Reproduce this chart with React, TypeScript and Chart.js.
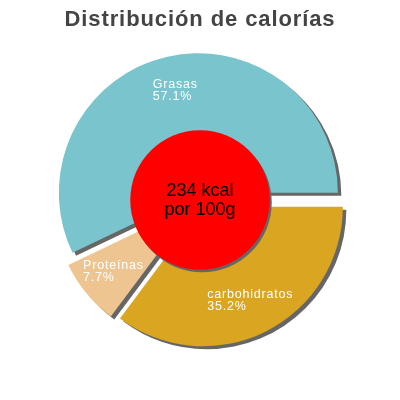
import { useEffect, useRef } from 'react';
import { Chart, registerables, type ArcElement, type Plugin } from 'chart.js';

Chart.register(...registerables);

// values, in drawing order (clockwise from 3 o'clock)
const title = 'Distribución de calorías';
const sliceNames = ['carbohidratos', 'Proteínas', 'Grasas'];
const sliceValues = [35.2, 7.7, 57.1];
const slicePercents = ['35.2%', '7.7%', '57.1%'];
const sliceColors = ['#DAA520', '#EEC591', '#7AC5CD'];
const centerLines = ['234 kcal', 'por 100g'];

const FONT = '"Liberation Sans", Arial, Helvetica, sans-serif';
const EXPLODE = 7.5;
const SHADOW_X = 3.5;
const SHADOW_Y = 3;
const SHADOW_COLOR = '#666666';

function arcGeom(arc: ArcElement) {
  const p = arc.getProps(['x', 'y', 'startAngle', 'endAngle', 'outerRadius'], true) as any;
  const mid = (p.startAngle + p.endAngle) / 2;
  return {
    ...p,
    mid,
    cx: p.x + Math.cos(mid) * EXPLODE,
    cy: p.y + Math.sin(mid) * EXPLODE,
  };
}

const explodedPie: Plugin<'pie'> = {
  id: 'explodedPie',
  beforeDraw(chart) {
    // title is drawn by the title plugin, a bit spaced like the original
    (chart.ctx as any).letterSpacing = '0.9px';
  },
  beforeDatasetsDraw(chart) {
    const ctx = chart.ctx;
    (ctx as any).letterSpacing = '0px';
    const arcs = chart.getDatasetMeta(0).data as unknown as ArcElement[];
    // shadows under every slice first
    arcs.forEach((arc) => {
      const g = arcGeom(arc);
      ctx.save();
      ctx.fillStyle = SHADOW_COLOR;
      ctx.beginPath();
      ctx.moveTo(g.cx + SHADOW_X, g.cy + SHADOW_Y);
      ctx.arc(g.cx + SHADOW_X, g.cy + SHADOW_Y, g.outerRadius, g.startAngle, g.endAngle);
      ctx.closePath();
      ctx.fill();
      ctx.restore();
    });
    // then the slices, pushed out along their bisector
    arcs.forEach((arc) => {
      const g = arcGeom(arc);
      ctx.save();
      ctx.translate(g.cx - g.x, g.cy - g.y);
      arc.draw(ctx);
      ctx.restore();
    });
    return false;
  },
  afterDraw(chart) {
    const ctx = chart.ctx;
    const arcs = chart.getDatasetMeta(0).data as unknown as ArcElement[];
    if (!arcs.length) return;

    // slice labels
    ctx.save();
    (ctx as any).letterSpacing = '0.8px';
    ctx.font = `12.5px ${FONT}`;
    ctx.fillStyle = '#FFFFFF';
    ctx.textAlign = 'left';
    ctx.textBaseline = 'alphabetic';
    arcs.forEach((arc, i) => {
      const g = arcGeom(arc);
      const r = g.outerRadius * 0.75;
      const bx = g.cx + Math.cos(g.mid) * r;
      const by = g.cy + Math.sin(g.mid) * r;
      const w = Math.max(ctx.measureText(sliceNames[i]).width, ctx.measureText(slicePercents[i]).width);
      const left = bx - w / 2;
      ctx.fillText(sliceNames[i], left, by - 2.5);
      ctx.fillText(slicePercents[i], left, by + 9.5);
    });
    ctx.restore();

    // red centre disc with its own small shadow
    const g0 = arcGeom(arcs[0]);
    const rc = g0.outerRadius / 2;
    ctx.save();
    ctx.fillStyle = SHADOW_COLOR;
    ctx.beginPath();
    ctx.arc(g0.x + 2, g0.y + 2.5, rc, 0, Math.PI * 2);
    ctx.fill();
    ctx.fillStyle = '#FF0000';
    ctx.beginPath();
    ctx.arc(g0.x, g0.y, rc, 0, Math.PI * 2);
    ctx.fill();
    (ctx as any).letterSpacing = '0px';
    ctx.font = `18px ${FONT}`;
    ctx.fillStyle = '#000000';
    ctx.textAlign = 'center';
    ctx.textBaseline = 'alphabetic';
    ctx.fillText(centerLines[0], g0.x, g0.y - 4.5);
    ctx.fillText(centerLines[1], g0.x, g0.y + 14.5);
    ctx.restore();
  },
};

export default function App() {
  const canvasRef = useRef<HTMLCanvasElement>(null);

  useEffect(() => {
    const canvas = canvasRef.current;
    if (!canvas) return;
    const chart = new Chart(canvas, {
      type: 'pie',
      data: {
        labels: sliceNames,
        datasets: [
          {
            data: sliceValues,
            backgroundColor: sliceColors,
            borderWidth: 0,
            radius: 139.5,
          },
        ],
      },
      options: {
        responsive: true,
        maintainAspectRatio: false,
        animation: false,
        events: [],
        rotation: 90,
        layout: { padding: { top: 0, bottom: 40.4, left: 0, right: 0 } },
        plugins: {
          legend: { display: false },
          tooltip: { enabled: false },
          title: {
            display: true,
            text: title,
            color: '#444444',
            font: { family: FONT, size: 22, weight: 'bold', lineHeight: 1.2 },
            padding: { top: 6.5, bottom: 7.5 },
          },
        },
      },
      plugins: [explodedPie],
    });
    return () => chart.destroy();
  }, []);

  return (
    <div style={{ position: 'fixed', left: 0, top: 0, width: 400, height: 400, background: '#FFFFFF' }}>
      <canvas ref={canvasRef} />
    </div>
  );
}
